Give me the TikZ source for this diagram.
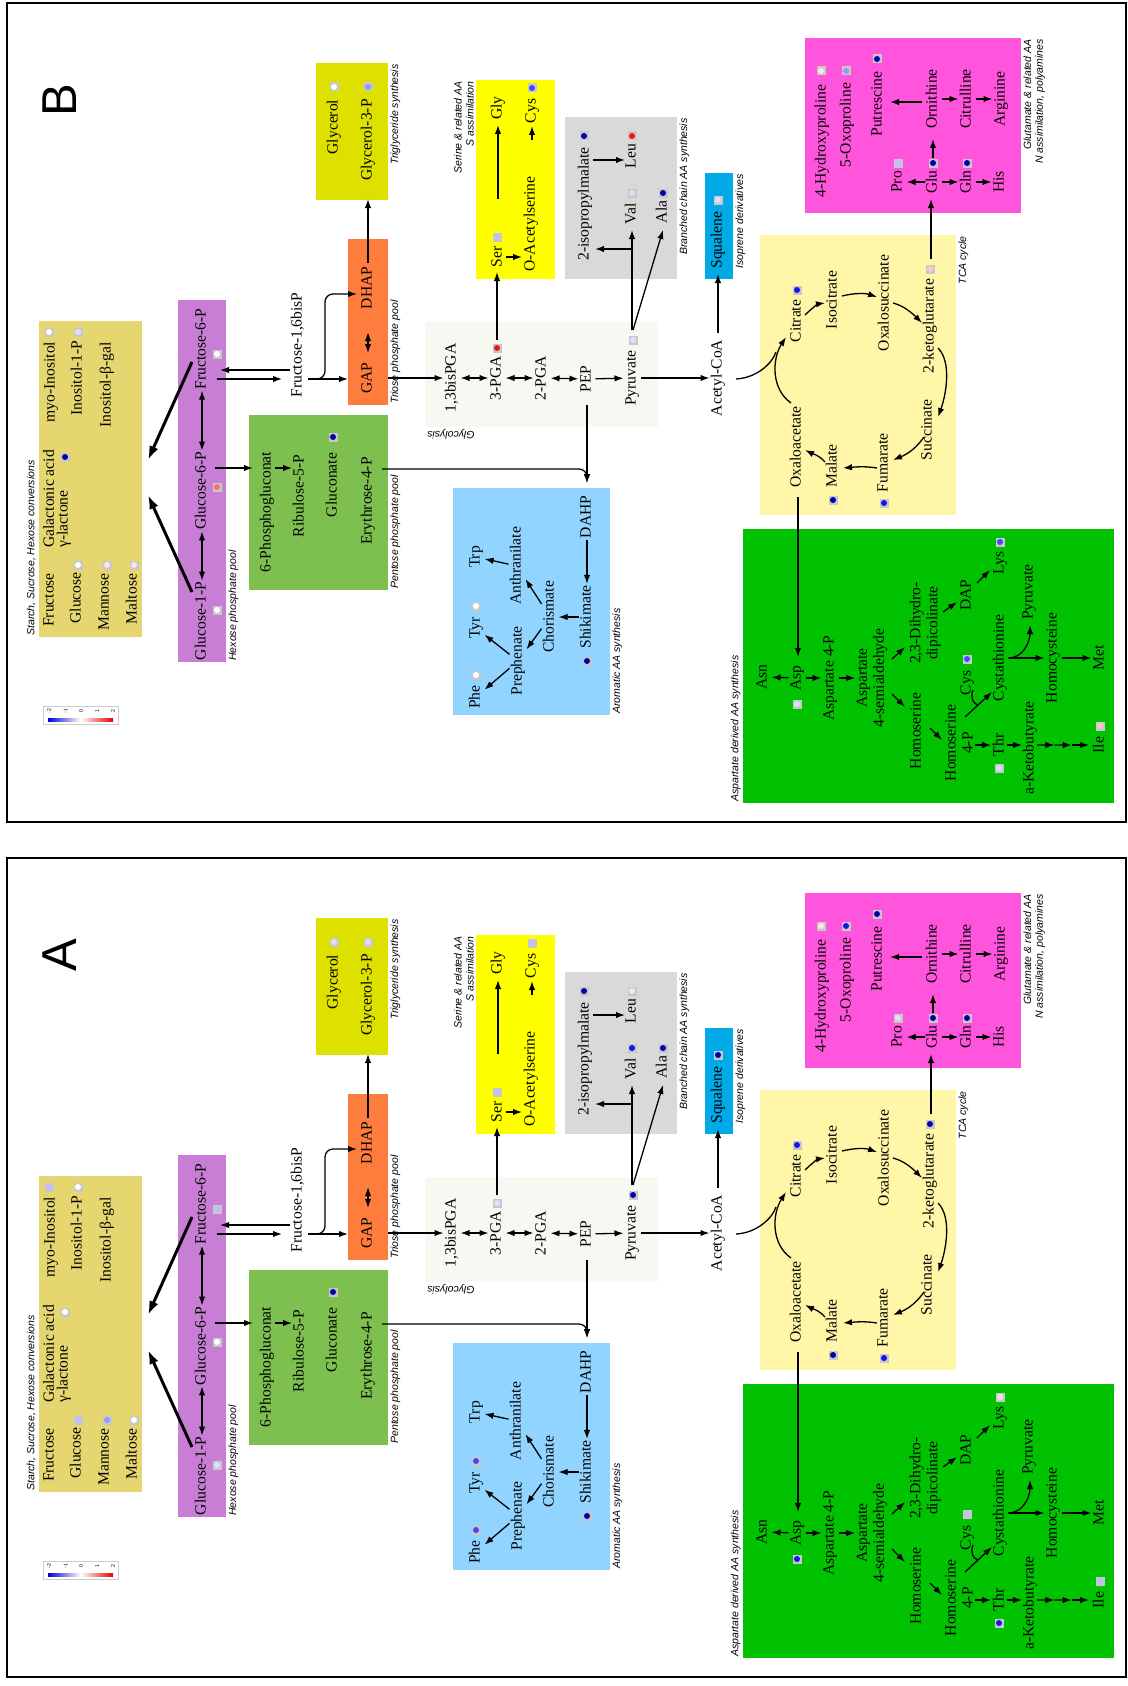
\documentclass[tikz,border=0pt]{standalone}
\usepackage{fontspec}
\setmainfont{Liberation Serif}
\newfontfamily\lsans{Liberation Sans}
\usetikzlibrary{arrows.meta,calc}
\definecolor{cstarch}{RGB}{230,214,112}
\definecolor{chex}{RGB}{201,126,214}
\definecolor{ctri}{RGB}{255,125,60}
\definecolor{cglyc}{RGB}{222,224,0}
\definecolor{cpen}{RGB}{125,192,80}
\definecolor{cglyco}{RGB}{248,248,242}
\definecolor{cser}{RGB}{255,255,0}
\definecolor{cbca}{RGB}{217,217,217}
\definecolor{csq}{RGB}{0,170,230}
\definecolor{cglu}{RGB}{255,85,221}
\definecolor{ctca}{RGB}{255,246,168}
\definecolor{casp}{RGB}{0,194,0}
\definecolor{caro}{RGB}{145,212,255}
\definecolor{dotbg}{RGB}{200,200,200}
\definecolor{pdk}{RGB}{0,0,170}
\definecolor{pbl}{RGB}{20,20,235}
\definecolor{pmb}{RGB}{70,70,255}
\definecolor{plv}{RGB}{150,150,255}
\definecolor{pll}{RGB}{190,190,255}
\definecolor{ppl}{RGB}{222,222,255}
\definecolor{ppk}{RGB}{255,228,228}
\definecolor{ppi}{RGB}{255,200,200}
\definecolor{psa}{RGB}{255,110,110}
\definecolor{prd}{RGB}{240,20,20}
\tikzset{
  mlab/.style={rotate=90, inner sep=0.5pt, font=\fontsize{7.8}{9}\selectfont, text height=5.4pt, text depth=1.7pt},
  mlabb/.style={rotate=90, inner sep=0.5pt, align=center, font=\fontsize{7.8}{8.5}\selectfont},
  capbase/.style={inner sep=0.5pt, font=\lsans\itshape\fontsize{5.25}{5.9}\selectfont},
  caplab/.style={capbase, rotate=90},
  arr/.style={line width=0.65pt, -{Latex[length=4.5pt,width=3.2pt]}},
  darr/.style={line width=0.65pt, {Latex[length=4.5pt,width=3.2pt]}-{Latex[length=4.5pt,width=3.2pt]}},
  tarr/.style={line width=1.5pt, -{Latex[length=7pt,width=4.8pt]}},
  ln/.style={line width=0.65pt},
}
\newcommand\pbox[6]{\node[inner sep=0pt, outer sep=0pt, fill=#6, minimum width={(#4-#2)*0.5pt}, minimum height={(#5-#3)*0.5pt}, anchor=north west] (#1) at (#2,#3) {};}
\newcommand\mdot[3]{\fill[dotbg] (#1,#2) ++(-4.5,-4.5) rectangle ++(9,9); \fill[#3] (#1,#2) circle[radius=1.5pt];}
\newcommand\setdotsB{%
\colorlet{dglycerol}{white}\colorlet{dgtp}{plv}\colorlet{dser}{pll}\colorlet{dcysa}{pmb}%
\colorlet{dipm}{pdk}\colorlet{dleu}{prd}\colorlet{dval}{ppl}\colorlet{dala}{pdk}\colorlet{dsq}{ppl}%
\colorlet{dhyp}{ppk}\colorlet{doxo}{plv}\colorlet{dput}{pdk}\colorlet{dpro}{pll}\colorlet{dglu}{pdk}%
\colorlet{dgln}{pdk}\colorlet{dakg}{ppi}\colorlet{dcitr}{pbl}\colorlet{dmal}{pdk}\colorlet{dfum}{pbl}%
\colorlet{dlys}{pmb}\colorlet{dasp}{ppl}\colorlet{dcysb}{pmb}\colorlet{dthr}{ppl}\colorlet{dile}{ppi}%
\colorlet{dshik}{pdk}\colorlet{dtyr}{white}\colorlet{dphe}{white}\colorlet{dpga}{prd}\colorlet{dpyr}{ppl}%
\colorlet{dgluc}{pdk}\colorlet{dgsix}{psa}\colorlet{dfsix}{white}\colorlet{dgone}{white}\colorlet{dmyo}{white}%
\colorlet{dinop}{ppl}\colorlet{dgalact}{pdk}\colorlet{dglucose}{white}\colorlet{dmannose}{ppk}\colorlet{dmaltose}{ppk}}
\newcommand\setdotsA{%
\colorlet{dglycerol}{ppl}\colorlet{dgtp}{ppl}\colorlet{dser}{pll}\colorlet{dcysa}{pll}%
\colorlet{dipm}{pdk}\colorlet{dleu}{ppk}\colorlet{dval}{pbl}\colorlet{dala}{pdk}\colorlet{dsq}{pdk}%
\colorlet{dhyp}{ppk}\colorlet{doxo}{pbl}\colorlet{dput}{pdk}\colorlet{dpro}{ppl}\colorlet{dglu}{pdk}%
\colorlet{dgln}{pdk}\colorlet{dakg}{pdk}\colorlet{dcitr}{pbl}\colorlet{dmal}{pdk}\colorlet{dfum}{pbl}%
\colorlet{dlys}{ppk}\colorlet{dasp}{pbl}\colorlet{dcysb}{pll}\colorlet{dthr}{pbl}\colorlet{dile}{pll}%
\colorlet{dshik}{pdk}\colorlet{dtyr}{pmb}\colorlet{dphe}{pmb}\colorlet{dpga}{ppl}\colorlet{dpyr}{pdk}%
\colorlet{dgluc}{pdk}\colorlet{dgsix}{white}\colorlet{dfsix}{pll}\colorlet{dgone}{ppl}\colorlet{dmyo}{pll}%
\colorlet{dinop}{white}\colorlet{dgalact}{white}\colorlet{dglucose}{pll}\colorlet{dmannose}{plv}\colorlet{dmaltose}{white}}
\newcommand\drawpanel[1]{%
\draw[line width=1pt] (7,3) rectangle (1126,822);
\node[rotate=90, inner sep=0pt, font=\lsans\fontsize{24.5}{28}\selectfont] (letter) at (60,100) {#1};
% boxes
\pbox{bstarch}{39}{321}{142}{637}{cstarch}
\pbox{bhex}{178}{300}{226}{662}{chex}
\pbox{btri}{348}{239}{388}{405}{ctri}
\pbox{bgly}{316}{63}{388}{200}{cglyc}
\pbox{bpen}{249}{415}{388}{590}{cpen}
\pbox{bglyco}{425}{322}{658}{427}{cglyco}
\pbox{bser}{476}{80}{555}{279}{cser}
\pbox{bbca}{565}{117}{677}{279}{cbca}
\pbox{bsq}{705}{173}{733}{279}{csq}
\pbox{bglu}{805}{38}{1021}{213}{cglu}
\pbox{btca}{760}{235}{956}{515}{ctca}
\pbox{basp}{743}{529}{1114}{803}{casp}
\pbox{baro}{453}{488}{610}{715}{caro}
% captions
\node[caplab, anchor=south west] (lstarch) at (37,637) {Starch, Sucrose, Hexose conversions};
\node[caplab, anchor=north west] (lhex) at (227,662) {Hexose phosphate pool};
\node[caplab, anchor=north west] (lpen) at (389,590) {Pentose phosphate pool};
\node[caplab, anchor=north west] (ltri) at (389,405) {Triose phosphate pool};
\node[caplab, anchor=north east] (lgly) at (389,63) {Triglyceride synthesis};
\node[caplab, anchor=south east, align=right] (lser) at (475,80) {Serine \& related AA\\S assimilation};
\node[caplab, anchor=north east] (lbca) at (678,117) {Branched chain AA synthesis};
\node[caplab, anchor=north east] (lsq) at (734,173) {Isoprene derivatives};
\node[caplab, anchor=north east, align=right] (lglu) at (1022,38) {Glutamate \& related AA\\N assimilation, polyamines};
\node[caplab, anchor=north east] (ltca) at (957,235) {TCA cycle};
\node[capbase, rotate=180, anchor=south east] (lglyco) at (426,428) {Glycolysis};
\node[caplab, anchor=north west] (laro) at (611,715) {Aromatic AA synthesis};
\node[caplab, anchor=south west] (lasp) at (742,803) {Aspartate derived AA synthesis};
% legend
\node[draw=black!20, fill=white, inner sep=0pt, minimum width=37.5pt, minimum height=9pt, anchor=north west] (legend) at (43,706) {};
\shade[left color=blue!85!black, right color=red!90!black, middle color=white] (48,718.5) rectangle (113,721.5);
\foreach \v/\xx in {-2/49,-1/65.5,0/81,1/97,2/113} \node[rotate=90, inner sep=0pt, font=\lsans\fontsize{2.6}{3}\selectfont] (tk\v) at (\xx,711) {\v};
% nodes
\node[mlab] (myo) at (51,382) {myo-Inositol};
\node[mlab] (inop) at (78,378) {Inositol-1-P};
\node[mlab] (inosgal) at (107,385) {Inositol-β-gal};
\node[mlabb, align=left, font=\fontsize{7.8}{6.8}\selectfont, anchor=west] (galact) at (57,549) {Galactonic acid\\γ-lactone};
\node[mlab] (fructose) at (50,600) {Fructose};
\node[mlab] (glucose) at (77,598) {Glucose};
\node[mlab] (mannose) at (105,602) {Mannose};
\node[mlab] (maltose) at (133,599) {Maltose};
\node[mlab] (fsix) at (202,349) {Fructose-6-P};
\node[mlab] (gsix) at (202,491) {Glucose-6-P};
\node[mlab] (gone) at (202,621) {Glucose-1-P};
\node[mlab] (fbp) at (298,345) {Fructose-1,6bisP};
\node[mlab] (dhap) at (368,288) {DHAP};
\node[mlab] (gap) at (368,378) {GAP};
\node[mlab] (pg) at (267,512) {6-Phosphogluconat};
\node[mlab] (ru) at (300,496) {Ribulose-5-P};
\node[mlab] (gluc) at (333,485) {Gluconate};
\node[mlab] (ery) at (368,501) {Erythrose-4-P};
\node[mlab] (glycerol) at (334,127) {Glycerol};
\node[mlab] (gtp) at (368,140) {Glycerol-3-P};
\node[mlab] (bpga) at (452,378) {1,3bisPGA};
\node[mlab] (pga) at (497,378) {3-PGA};
\node[mlab] (pgb) at (542,378) {2-PGA};
\node[mlab] (pep) at (587,379) {PEP};
\node[mlab] (pyr) at (632,378) {Pyruvate};
\node[mlab] (acoa) at (718,378) {Acetyl-CoA};
\node[mlab] (ser) at (498,257) {Ser};
\node[mlab] (gly) at (498,108) {Gly};
\node[mlab] (oas) at (531,224) {O-Acetylserine};
\node[mlab] (cysa) at (532,111) {Cys};
\node[mlab] (ipm) at (585,204) {2-isopropylmalate};
\node[mlab] (leu) at (632,156) {Leu};
\node[mlab] (val) at (632,214) {Val};
\node[mlab] (ala) at (663,212) {Ala};
\node[mlab] (sq) at (718,240) {Squalene};
\node[mlab] (hyp) at (822,141) {4-Hydroxyproline};
\node[mlab] (oxo) at (847,125) {5-Oxoproline};
\node[mlab] (put) at (878,104) {Putrescine};
\node[mlab] (orn) at (933,99) {Ornithine};
\node[mlab] (cit) at (967,99) {Citrulline};
\node[mlab] (arg) at (1001,99) {Arginine};
\node[mlab] (pro) at (898,182) {Pro};
\node[mlab] (glu) at (933,182) {Glu};
\node[mlab] (gln) at (967,182) {Gln};
\node[mlab] (his) at (1000,182) {His};
\node[mlab] (citr) at (797,321) {Citrate};
\node[mlab] (icit) at (833,300) {Isocitrate};
\node[mlab] (osuc) at (885,303) {Oxalosuccinate};
\node[mlab] (akg) at (930,326) {2-ketoglutarate};
\node[mlab] (succ) at (928,430) {Succinate};
\node[mlab] (fum) at (884,463) {Fumarate};
\node[mlab] (mal) at (833,466) {Malate};
\node[mlab] (oaa) at (797,447) {Oxaloacetate};
\node[mlab] (dahp) at (587,517) {DAHP};
\node[mlab] (shik) at (587,617) {Shikimate};
\node[mlab] (chor) at (550,617) {Chorismate};
\node[mlab] (anth) at (517,566) {Anthranilate};
\node[mlab] (trp) at (476,557) {Trp};
\node[mlab] (tyr) at (476,628) {Tyr};
\node[mlab] (preph) at (518,661) {Prephenate};
\node[mlab] (phe) at (476,697) {Phe};
\node[mlab] (asn) at (763,677) {Asn};
\node[mlab] (asp) at (797,678) {Asp};
\node[mlab] (aspp) at (830,678) {Aspartate 4-P};
\node[mlabb] (asa) at (872,678) {Aspartate\\4-semialdehyde};
\node[mlabb] (dhdp) at (925,623) {2,3-Dihydro-\\dipicolinate};
\node[mlab] (dap) at (967,595) {DAP};
\node[mlab] (lys) at (1000,563) {Lys};
\node[mlab] (hser) at (917,731) {Homoserine};
\node[mlabb] (hserp) at (959,743) {Homoserine\\4-P};
\node[mlab] (cysb) at (967,683) {Cys};
\node[mlab] (cysta) at (1000,658) {Cystathionine};
\node[mlab] (pyrb) at (1029,592) {Pyruvate};
\node[mlab] (hcys) at (1053,658) {Homocysteine};
\node[mlab] (met) at (1100,658) {Met};
\node[mlab] (thr) at (1000,745) {Thr};
\node[mlab] (akb) at (1030,748) {a-Ketobutyrate};
\node[mlab] (ile) at (1100,745) {Ile};
% dots
\mdot{49}{332}{dmyo}\mdot{78}{332}{dinop}\mdot{65}{457}{dgalact}
\mdot{78}{565}{dglucose}\mdot{107}{565}{dmannose}\mdot{134}{565}{dmaltose}
\mdot{217}{354}{dfsix}\mdot{217}{487}{dgsix}\mdot{217}{610}{dgone}
\mdot{333}{437}{dgluc}\mdot{334}{87}{dglycerol}\mdot{368}{87}{dgtp}
\mdot{497}{348}{dpga}\mdot{633}{340}{dpyr}\mdot{497}{237}{dser}\mdot{532}{88}{dcysa}
\mdot{584}{136}{dipm}\mdot{632}{136}{dleu}\mdot{632}{193}{dval}\mdot{663}{193}{dala}
\mdot{718}{200}{dsq}\mdot{821}{71}{dhyp}\mdot{846}{71}{doxo}\mdot{877}{59}{dput}
\mdot{898}{163}{dpro}\mdot{933}{163}{dglu}\mdot{967}{163}{dgln}
\mdot{930}{269}{dakg}\mdot{797}{290}{dcitr}\mdot{884}{503}{dfum}\mdot{833}{500}{dmal}
\mdot{1000}{542}{dlys}\mdot{797}{704}{dasp}\mdot{967}{659}{dcysb}\mdot{999}{768}{dthr}\mdot{1100}{726}{dile}
\mdot{587}{661}{dshik}\mdot{476}{606}{dtyr}\mdot{476}{675}{dphe}
% hexose arrows
\draw[darr] (fsix) -- (gsix);
\draw[darr] (gsix) -- (gone);
\draw[tarr] ($(fsix)+(-10,13)$) -- ($(bstarch.east)+(6,-19)$);
\draw[tarr] ($(gone)+(-10,-29)$) -- ($(bstarch.east)+(6,16)$);
\draw[arr] ($(fbp)+(-8,25)$) -- ($(fsix)+(18,21)$);
\draw[arr] ($(fsix)+(15,30)$) -- ($(fbp)+(-16,34)$);
\draw[arr] ($(fbp)+(10,34)$) -- ($(gap)+(-20,1)$);
\draw[arr, rounded corners=4pt] ($(fbp)+(16,34)$) -- ++(11,0) |- ($(dhap)+(-11,6)$);
\draw[darr] ($(gap)+(0,-25)$) -- ($(dhap)+(0,44)$);
\draw[arr] ($(dhap)+(0,-25)$) -- ($(gtp)+(0,59)$);
% pentose
\draw[arr] ($(gsix)+(13,-23)$) -- ($(pg)+(-14,-44)$);
\draw[arr] ($(pg)+(8,-44)$) -- ($(ru)+(-8,-28)$);
\draw[arr, rounded corners=4pt] ($(ery)+(14,-32)$) -| ($(dahp)+(0,-34)$);
% glycolysis
\draw[arr] ($(gap)+(20,0)$) -- (bpga);
\draw[darr] (bpga) -- (pga);
\draw[darr] (pga) -- (pgb);
\draw[darr] (pgb) -- (pep);
\draw[arr] (pep) -- (pyr);
\draw[arr] (pyr) -- (acoa);
\draw[arr] ($(pga)+(0,-38)$) -- ($(ser)+(-1,15)$);
\draw[arr] ($(pep)+(0,26)$) -- ($(dahp)+(0,-34)$);
% serine
\draw[arr] ($(ser)+(0,-58)$) -- ($(gly)+(0,17)$);
\draw[arr] ($(ser)+(8,0)$) -- ($(oas)+(-9,33)$);
\draw[arr] ($(cysa)+(0,29)$) -- ($(cysa)+(0,15)$);
% branched chain
\draw[arr] ($(pyr)+(0,-48)$) -- ($(val)+(0,16)$);
\draw[arr] ($(pyr)+(1,-48)$) -- ($(ala)+(0,18)$);
\draw[arr] ($(val)+(0,35)$) -- ($(ipm)+(10,45)$);
\draw[arr] ($(ipm)+(8,-44)$) -- ($(leu)+(-7,4)$);
\draw[arr] ($(acoa)+(0,-45)$) -- ($(sq)+(0,34)$);
% glutamate
\draw[arr] ($(orn)+(-11,3)$) -- ($(put)+(12,-2)$);
\draw[arr] (orn) -- (cit);
\draw[arr] (cit) -- (arg);
\draw[arr] (glu) -- (pro);
\draw[arr] (glu) -- (gln);
\draw[arr] (gln) -- (his);
\draw[arr] ($(glu)+(0,-24)$) -- ($(orn)+(0,40)$);
\draw[arr] ($(akg)+(1,-67)$) -- ($(glu)+(-2,17)$);
% TCA
\draw[arr] ($(oaa)+(-6,-44)$) .. controls +(-20,-14) and +(-14,22) .. ($(citr)+(-11,16)$);
\draw[ln] ($(acoa)+(18,1)$) .. controls +(20,-1) and +(-4,12) .. ($(citr)+(-21,31)$);
\draw[arr] ($(citr)+(8,-6)$) .. controls +(6,-6) and +(-7,1) .. ($(icit)+(-8,3)$);
\draw[arr] ($(icit)+(9,-4)$) .. controls +(12,-3) and +(-12,-4) .. ($(osuc)+(-8,-6)$);
\draw[arr] ($(osuc)+(8,0)$) .. controls +(12,3) and +(-8,-8) .. ($(akg)+(-8,-3)$);
\draw[arr] ($(akg)+(8,22)$) .. controls +(14,14) and +(8,-22) .. ($(succ)+(10,-13)$);
\draw[arr] ($(succ)+(-4,7)$) .. controls +(-10,14) and +(12,-5) .. ($(fum)+(9,-3)$);
\draw[arr] ($(fum)+(-7,5)$) .. controls +(-12,-2) and +(12,-1) .. ($(mal)+(10,2)$);
\draw[arr] ($(mal)+(-8,-4)$) .. controls +(-6,-7) and +(6,3) .. ($(oaa)+(8,3)$);
% aspartate
\draw[arr] ($(oaa)+(1,50)$) -- ($(asp)+(1,-21)$);
\draw[arr] (asp) -- (asn);
\draw[arr] (asp) -- (aspp);
\draw[arr] (aspp) -- (asa);
\draw[arr] ($(asa)+(20,-19)$) -- ($(dhdp)+(-20,24)$);
\draw[arr] ($(asa)+(20,16)$) -- ($(hser)+(-12,-24)$);
\draw[arr] ($(dhdp)+(18,-11)$) -- ($(dap)+(-10,7)$);
\draw[arr] ($(dap)+(10,-12)$) -- ($(lys)+(-10,7)$);
\draw[arr] ($(hser)+(13,-3)$) -- ($(hserp)+(-17,-3)$);
\draw[arr] ($(hserp)+(6,-26)$) -- ($(cysta)+(-8,34)$);
\draw[ln] ($(cysb)+(6,7)$) .. controls +(-3,7) and +(-5,-1) .. ($(hserp)+(19,-38)$);
\draw[arr] ($(hserp)+(16,2)$) -- ($(thr)+(-9,0)$);
\draw[arr] ($(thr)+(7,0)$) -- ($(akb)+(-8,-3)$);
\coordinate (ks) at ($(akb)+(7,-3)$);
\coordinate (ke) at ($(ile)+(-11,0)$);
\draw[arr] (ks) -- ($(ks)!1/3!(ke)$);
\draw[arr] ($(ks)!1/3!(ke)$) -- ($(ks)!2/3!(ke)$);
\draw[arr] ($(ks)!2/3!(ke)$) -- (ke);
\draw[arr] (cysta) -- (hcys);
\draw[arr] ($(cysta)+(8,0)$) .. controls +(16,0) and +(0,16) .. ($(pyrb)+(1,33)$);
\draw[arr] (hcys) -- (met);
% aromatic
\draw[arr] (dahp) -- (shik);
\draw[arr] (shik) -- (chor);
\draw[arr] (chor) -- (preph);
\draw[arr] (chor) -- (anth);
\draw[arr] (anth) -- (trp);
\draw[arr] (preph) -- (tyr);
\draw[arr] (preph) -- (phe);
}
\begin{document}
\begin{tikzpicture}[x=0.5pt, y=-0.5pt]
\useasboundingbox (0,0) rectangle (1128,1686);
\fill[white] (0,0) rectangle (1128,1686);
\begin{scope}[name prefix=B-]
\setdotsB
\drawpanel{B}
\end{scope}
\begin{scope}[shift={(0,855)}, name prefix=A-]
\setdotsA
\drawpanel{A}
\end{scope}
\end{tikzpicture}
\end{document}
